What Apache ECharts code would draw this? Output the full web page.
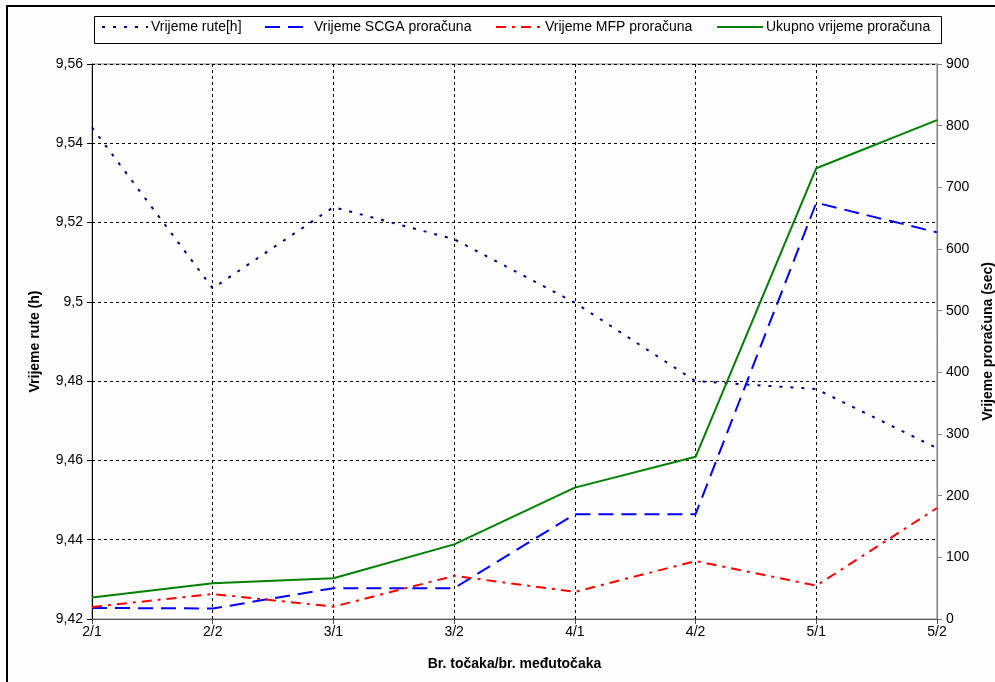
<!DOCTYPE html>
<html>
<head>
<meta charset="utf-8">
<script src="https://cdn.jsdelivr.net/npm/echarts@6/dist/echarts.min.js"></script>
<style>
html,body{margin:0;padding:0;background:#fdfefd;}
#c{width:995px;height:682px;}
</style>
</head>
<body>
<div id="c"></div>
<script>
const categories = ['2/1','2/2','3/1','3/2','4/1','4/2','5/1','5/2'];
const routeTime = [9.544, 9.5034, 9.5239, 9.5158, 9.4998, 9.480, 9.478, 9.4631];
const scgaTime = [18, 17, 50, 50, 170, 170, 675, 627];
const mfpTime = [19.5, 40.5, 20, 70, 44, 94, 54, 180];
const totalTime = [35, 58, 66, 121, 213, 263, 731, 809];
const seriesNames = ['Vrijeme rute[h]', 'Vrijeme SCGA proračuna', 'Vrijeme MFP proračuna', 'Ukupno vrijeme proračuna'];

const FONT = 'Liberation Sans, Arial, sans-serif';
const chart = echarts.init(document.getElementById('c'), null, {renderer: 'canvas'});

function legendItem(name, left) {
  return {
    data: [name], left: left, top: 20, itemWidth: 46, itemHeight: 14, itemGap: 4,
    itemStyle: {color: 'rgba(0,0,0,0)', borderWidth: 0, opacity: 0},
    textStyle: {fontFamily: FONT, fontSize: 14, color: '#000', padding: [0,0,0,-2]},
    padding: 0, selectedMode: false
  };
}

chart.setOption({
  backgroundColor: '#fdfefd',
  animation: false,
  graphic: [
    {type: 'rect', left: 92, top: 14, shape: {width: 847, height: 27}, style: {fill: 'none', stroke: '#000', lineWidth: 1}, z: 0},
    {type: 'rect', left: 6, top: 5, shape: {width: 995, height: 2}, style: {fill: '#000'}},
    {type: 'rect', left: 6, top: 5, shape: {width: 2, height: 682}, style: {fill: '#000'}}
  ],
  legend: [
    legendItem(seriesNames[0], 101),
    legendItem(seriesNames[1], 264),
    legendItem(seriesNames[2], 495),
    legendItem(seriesNames[3], 716)
  ],
  grid: {left: 92, right: 58, top: 64, bottom: 63, outerBoundsMode: 'none', containLabel: false,
    show: true, borderColor: '#808080', borderWidth: 1, backgroundColor: 'transparent'},
  xAxis: {
    type: 'category', data: categories, boundaryGap: false,
    name: 'Br. točaka/br. međutočaka', nameLocation: 'middle', nameGap: 38,
    nameTextStyle: {fontFamily: FONT, fontSize: 14, fontWeight: 'bold', color: '#000'},
    axisLine: {lineStyle: {color: '#555', width: 1}},
    axisTick: {show: true, inside: false, length: 5, lineStyle: {color: '#555'}},
    axisLabel: {fontFamily: FONT, fontSize: 14, color: '#000', margin: 6},
    splitLine: {show: true, lineStyle: {color: '#000', type: [3,3], width: 1}}
  },
  yAxis: [
    {
      type: 'value', min: 9.42, max: 9.56, interval: 0.02, position: 'left',
      name: 'Vrijeme rute (h)', nameLocation: 'middle', nameGap: 50, nameRotate: 90,
      nameTextStyle: {fontFamily: FONT, fontSize: 14, fontWeight: 'bold', color: '#000'},
      axisLine: {show: true, lineStyle: {color: '#000', width: 1}},
      axisTick: {show: true, inside: false, length: 5, lineStyle: {color: '#000'}},
      axisLabel: {fontFamily: FONT, fontSize: 14, color: '#000', margin: 9,
        formatter: v => String(parseFloat(v.toFixed(2))).replace('.', ',')},
      splitLine: {show: true, lineStyle: {color: '#000', type: [3,3], width: 1}}
    },
    {
      type: 'value', min: 0, max: 900, interval: 100, position: 'right',
      name: 'Vrijeme proračuna (sec)', nameLocation: 'middle', nameGap: 44, nameRotate: 90,
      nameTextStyle: {fontFamily: FONT, fontSize: 14, fontWeight: 'bold', color: '#000'},
      axisLine: {show: true, lineStyle: {color: '#808080', width: 1}},
      axisTick: {show: true, inside: false, length: 5, lineStyle: {color: '#808080'}},
      axisLabel: {fontFamily: FONT, fontSize: 14, color: '#000', margin: 9},
      splitLine: {show: false}
    }
  ],
  series: [
    {name: seriesNames[0], type: 'line', yAxisIndex: 0, data: routeTime, symbol: 'none',
      lineStyle: {color: '#000080', width: 2, type: [3,8]}, itemStyle: {color: '#000080'}},
    {name: seriesNames[1], type: 'line', yAxisIndex: 1, data: scgaTime, symbol: 'none',
      lineStyle: {color: '#0000ff', width: 2, type: [15,8]}, itemStyle: {color: '#0000ff'}},
    {name: seriesNames[2], type: 'line', yAxisIndex: 1, data: mfpTime, symbol: 'none',
      lineStyle: {color: '#ff0000', width: 2, type: [10,6,3,6]}, itemStyle: {color: '#ff0000'}},
    {name: seriesNames[3], type: 'line', yAxisIndex: 1, data: totalTime, symbol: 'none',
      lineStyle: {color: '#008000', width: 2, type: 'solid'}, itemStyle: {color: '#008000'}}
  ]
});
</script>
</body>
</html>
